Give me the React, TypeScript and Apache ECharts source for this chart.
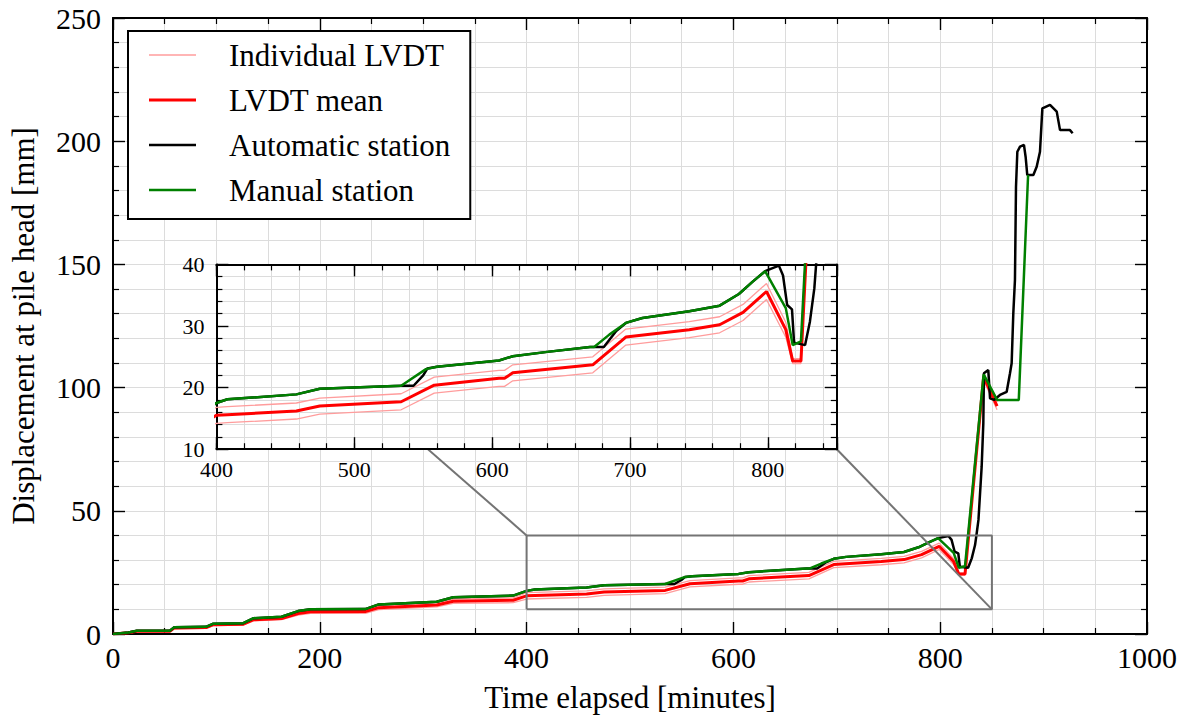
import React, { useEffect, useRef } from 'react';
import * as echarts from 'echarts';

// ---------- data (minutes, mm) ----------
const lvdtTime = [0, 15, 23, 55, 59, 90, 97, 126, 136, 163, 179, 191, 244, 257, 313, 329, 387, 400, 408, 458, 475, 534, 558, 605, 609, 615, 673, 697, 743, 765, 782, 799, 813, 818, 824, 842, 855];
const lvdtMean = [0, 0.5, 1.1, 1.1, 2.4, 2.6, 3.8, 4.0, 5.8, 6.3, 8.3, 9.0, 9.1, 10.7, 11.8, 13.3, 13.7, 15.5, 15.6, 16.2, 17.0, 17.7, 20.4, 21.5, 21.5, 22.4, 23.7, 28.2, 29.4, 30.2, 32.2, 35.6, 29.4, 24.3, 24.3, 104.4, 92.5];
const lvdtUpper = [0, 0.6, 1.3, 1.3, 2.7, 2.9, 4.2, 4.4, 6.3, 6.8, 8.9, 9.6, 9.8, 11.5, 12.6, 14.2, 14.7, 16.8, 16.9, 17.5, 18.3, 19.0, 21.7, 22.8, 22.8, 23.7, 25.0, 29.5, 30.7, 31.5, 33.5, 36.9, 30.6, 24.7, 24.7, 105.9, 94.0];
const lvdtLower = [0, 0.4, 0.9, 0.9, 2.1, 2.3, 3.4, 3.6, 5.3, 5.8, 7.7, 8.4, 8.4, 9.9, 11.0, 12.4, 12.7, 14.2, 14.3, 14.9, 15.7, 16.4, 19.1, 20.2, 20.2, 21.1, 22.4, 26.9, 28.1, 28.9, 30.9, 34.3, 28.2, 23.9, 23.9, 102.9, 91.0];

const autoTime = [0, 15, 23, 55, 59, 90, 97, 126, 136, 163, 179, 191, 244, 257, 313, 329, 387, 400, 408, 458, 475, 534, 543, 550, 553, 560, 605, 615, 640, 671, 681, 690, 697, 709, 743, 765, 779, 789, 798, 808, 811, 814, 817.5, 819, 827, 830.5, 833.7, 835.3, 837, 840.1, 841.7, 842.3, 846.5, 848.2, 852, 857.8, 864.3, 867.5, 869.1, 870.7, 872.3, 873.3, 874.6, 877.2, 881, 882.6, 884.2, 890.1, 893.3, 896.5, 898.8, 906.2, 912.7, 915.9, 925.5, 928.1];
const autoDisp = [0, 0.6, 1.3, 1.3, 2.7, 2.9, 4.2, 4.4, 6.4, 7.0, 9.3, 10.0, 10.1, 12.0, 13.1, 14.9, 15.6, 17.5, 18.1, 18.9, 19.8, 20.3, 20.3, 22.0, 23.1, 23.4, 24.4, 25.1, 25.8, 26.6, 26.6, 29.2, 30.5, 31.3, 32.4, 33.3, 35.2, 37.2, 38.9, 39.8, 38.2, 33.4, 32.7, 27.3, 26.9, 30.7, 36.1, 40.9, 46.3, 67.9, 85.5, 105.8, 107.1, 95.6, 95.0, 97.0, 98.3, 105.8, 109.9, 130.1, 143.7, 181.5, 195.7, 197.8, 198.5, 193.7, 186.3, 186.3, 189.6, 195.7, 213.3, 214.7, 212.0, 204.5, 204.5, 203.2];

const manualTime = [0, 15, 23, 55, 59, 90, 97, 126, 136, 163, 179, 191, 244, 257, 313, 329, 387, 400, 408, 458, 475, 534, 552, 560, 605, 615, 640, 671, 674, 685, 697, 709, 743, 765, 779, 789, 798, 813, 818, 824, 842, 855, 876, 885];
const manualDisp = [0, 0.6, 1.3, 1.3, 2.7, 2.9, 4.2, 4.4, 6.4, 7.0, 9.3, 10.0, 10.1, 12.0, 13.1, 14.9, 15.6, 17.5, 18.1, 18.9, 19.8, 20.3, 23.0, 23.4, 24.4, 25.1, 25.8, 26.6, 26.6, 28.6, 30.5, 31.3, 32.4, 33.3, 35.2, 37.2, 38.9, 32.9, 26.9, 27.5, 105.4, 95.0, 95.0, 186.3];

const legendNames = ['Individual LVDT', 'LVDT mean', 'Automatic station', 'Manual station'];

// axis ranges
const mainX = [0, 1000];
const mainY = [0, 250];
const zoomX = [400, 850];
const zoomY = [10, 40];
// inset placement, in main-axis data units
const insetX = [100, 700];
const insetY = [75, 150];

// ---------- layout ----------
const W = 1189;
const H = 722;
const MAIN = { left: 113, top: 18, width: 1034, height: 616 };
const FONT = '"Liberation Serif", "Times New Roman", "DejaVu Serif", serif';
const GRID_C = '#dcdcdc';

const PINK = '#ff9c9c';
const RED = '#ff0000';
const BLACK = '#000000';
const GREEN = '#008000';
const GRAY = '#747474';

const toPx = (x: number) => MAIN.left + ((x - mainX[0]) / (mainX[1] - mainX[0])) * MAIN.width;
const toPy = (y: number) => MAIN.top + (1 - (y - mainY[0]) / (mainY[1] - mainY[0])) * MAIN.height;

const zip = (t: number[], v: number[]) => t.map((x, i) => [x, v[i]]);

function lineSeries(name: string | undefined, data: number[][], color: string, width: number, xi: number, yi: number, z: number) {
  return {
    type: 'line',
    name,
    data,
    xAxisIndex: xi,
    yAxisIndex: yi,
    symbol: 'none',
    showSymbol: false,
    smooth: false,
    clip: true,
    silent: true,
    z,
    lineStyle: { color, width },
    itemStyle: { color, borderWidth: 0 },
  };
}

function frameAxis(extra: any) {
  return {
    type: 'value',
    axisLine: { show: true, onZero: false, lineStyle: { color: '#000', width: 2 } },
    axisTick: { show: true, inside: true, length: 12, lineStyle: { color: '#000', width: 1.4 } },
    axisLabel: { show: false },
    splitLine: { show: false },
    nameMoveOverlap: false,
    ...extra,
  };
}

const barIcon = (h: number) => `path://M0,0H47V${h}H0Z`;

export default function App() {
  const ref = useRef<HTMLDivElement>(null);

  useEffect(() => {
    if (!ref.current) return;
    const chart = echarts.init(ref.current, undefined, { renderer: 'svg', width: W, height: H });

    const insetRect = {
      left: toPx(insetX[0]),
      top: toPy(insetY[1]),
      width: toPx(insetX[1]) - toPx(insetX[0]),
      height: toPy(insetY[0]) - toPy(insetY[1]),
    };

    const mainTick = { lineStyle: { color: '#000', width: 1.2 } };
    const plainNum = (v: number) => String(v);

    const xAxis: any[] = [
      // 0 main bottom
      frameAxis({
        gridIndex: 0, position: 'bottom', min: mainX[0], max: mainX[1], interval: 200,
        minorTick: { show: true, splitNumber: 4, length: 6, ...mainTick },
        splitLine: { show: true, lineStyle: { color: GRID_C, width: 1 } },
        minorSplitLine: { show: true, lineStyle: { color: GRID_C, width: 1 } },
        axisLabel: { show: true, fontFamily: FONT, fontSize: 30, color: '#000', margin: 8, formatter: plainNum },
        name: 'Time elapsed [minutes]', nameLocation: 'middle', nameGap: 48,
        nameTextStyle: { fontFamily: FONT, fontSize: 31, color: '#000' },
      }),
      // 1 main top
      frameAxis({
        gridIndex: 0, position: 'top', min: mainX[0], max: mainX[1], interval: 200,
        minorTick: { show: true, splitNumber: 4, length: 6, ...mainTick },
      }),
      // 2 inset bottom (minor ticks, labels, grid)
      frameAxis({
        gridIndex: 1, position: 'bottom', min: zoomX[0], max: zoomX[1], interval: 20, z: 11,
        axisTick: { show: true, inside: true, length: 6, lineStyle: { color: '#000', width: 1.2 } },
        splitLine: { show: true, lineStyle: { color: GRID_C, width: 1 } },
        axisLabel: {
          show: true, fontFamily: FONT, fontSize: 22, color: '#000', margin: 9,
          formatter: (v: number) => (v % 100 === 0 && v < zoomX[1] ? String(v) : ''),
        },
      }),
      // 3 inset bottom (major ticks)
      frameAxis({
        gridIndex: 1, position: 'bottom', min: zoomX[0], max: zoomX[1], interval: 100, z: 11,
        axisLine: { show: false },
      }),
      // 4 inset top minor
      frameAxis({
        gridIndex: 1, position: 'top', min: zoomX[0], max: zoomX[1], interval: 20, z: 11,
        axisTick: { show: true, inside: true, length: 6, lineStyle: { color: '#000', width: 1.2 } },
      }),
      // 5 inset top major
      frameAxis({
        gridIndex: 1, position: 'top', min: zoomX[0], max: zoomX[1], interval: 100, z: 11,
        axisLine: { show: false },
      }),
    ];

    const yAxis: any[] = [
      // 0 main left
      frameAxis({
        gridIndex: 0, position: 'left', min: mainY[0], max: mainY[1], interval: 50,
        minorTick: { show: true, splitNumber: 5, length: 6, ...mainTick },
        splitLine: { show: true, lineStyle: { color: GRID_C, width: 1 } },
        minorSplitLine: { show: true, lineStyle: { color: GRID_C, width: 1 } },
        axisLabel: { show: true, fontFamily: FONT, fontSize: 30, color: '#000', margin: 12, formatter: plainNum },
        name: 'Displacement at pile head [mm]', nameLocation: 'middle', nameGap: 74, nameRotate: 90,
        nameTextStyle: { fontFamily: FONT, fontSize: 31, color: '#000' },
      }),
      // 1 main right
      frameAxis({
        gridIndex: 0, position: 'right', min: mainY[0], max: mainY[1], interval: 50,
        minorTick: { show: true, splitNumber: 5, length: 6, ...mainTick },
      }),
      // 2 inset left
      frameAxis({
        gridIndex: 1, position: 'left', min: zoomY[0], max: zoomY[1], interval: 10, z: 11,
        minorTick: { show: true, splitNumber: 5, length: 6, lineStyle: { color: '#000', width: 1.2 } },
        splitLine: { show: true, lineStyle: { color: GRID_C, width: 1 } },
        minorSplitLine: { show: true, lineStyle: { color: GRID_C, width: 1 } },
        axisLabel: { show: true, fontFamily: FONT, fontSize: 22, color: '#000', margin: 12, formatter: plainNum },
      }),
      // 3 inset right
      frameAxis({
        gridIndex: 1, position: 'right', min: zoomY[0], max: zoomY[1], interval: 10, z: 11,
        minorTick: { show: true, splitNumber: 5, length: 6, lineStyle: { color: '#000', width: 1.2 } },
      }),
    ];

    const upper = zip(lvdtTime, lvdtUpper);
    const lower = zip(lvdtTime, lvdtLower);
    const mean = zip(lvdtTime, lvdtMean);
    const auto = zip(autoTime, autoDisp);
    const manual = zip(manualTime, manualDisp);

    const zoomBox = [
      [zoomX[0], zoomY[0]], [zoomX[1], zoomY[0]], [zoomX[1], zoomY[1]], [zoomX[0], zoomY[1]], [zoomX[0], zoomY[0]],
    ];
    const connA = [[zoomX[0], zoomY[1]], [insetX[0], insetY[1]]];
    const connB = [[zoomX[1], zoomY[0]], [insetX[1], insetY[0]]];

    const series: any[] = [
      // main
      lineSeries(legendNames[0], upper, PINK, 1.3, 0, 0, 2),
      lineSeries(legendNames[0], lower, PINK, 1.3, 0, 0, 2),
      lineSeries(legendNames[1], mean, RED, 3, 0, 0, 3),
      lineSeries(legendNames[2], auto, BLACK, 2.5, 0, 0, 4),
      lineSeries(legendNames[3], manual, GREEN, 2.5, 0, 0, 5),
      // zoom indicator
      lineSeries(undefined, zoomBox, GRAY, 2, 0, 0, 6),
      lineSeries(undefined, connA, GRAY, 2, 0, 0, 6),
      lineSeries(undefined, connB, GRAY, 2, 0, 0, 6),
      // inset
      lineSeries(legendNames[0], upper, PINK, 1.3, 2, 2, 12),
      lineSeries(legendNames[0], lower, PINK, 1.3, 2, 2, 12),
      lineSeries(legendNames[1], mean, RED, 3, 2, 2, 13),
      lineSeries(legendNames[2], auto, BLACK, 2.5, 2, 2, 14),
      lineSeries(legendNames[3], manual, GREEN, 2.5, 2, 2, 15),
    ];

    chart.setOption({
      animation: false,
      backgroundColor: '#ffffff',
      textStyle: { fontFamily: FONT },
      grid: [
        { ...MAIN, containLabel: false, outerBoundsMode: 'none', show: false },
        {
          ...insetRect, containLabel: false, outerBoundsMode: 'none',
          show: true, backgroundColor: '#ffffff', borderWidth: 0, z: 10,
        },
      ],
      xAxis,
      yAxis,
      legend: {
        data: [
          { name: legendNames[0], icon: barIcon(1.4), itemStyle: { color: PINK, borderWidth: 0 } },
          { name: legendNames[1], icon: barIcon(3), itemStyle: { color: RED, borderWidth: 0 } },
          { name: legendNames[2], icon: barIcon(2.5), itemStyle: { color: BLACK, borderWidth: 0 } },
          { name: legendNames[3], icon: barIcon(2.5), itemStyle: { color: GREEN, borderWidth: 0 } },
        ],
        orient: 'vertical',
        left: 128,
        top: 31,
        padding: [7, 20, 12, 21],
        itemWidth: 47,
        itemHeight: 14,
        itemGap: 11,
        symbolKeepAspect: true,
        itemStyle: { borderWidth: 0 },
        lineStyle: { width: 0, opacity: 0 },
        borderColor: '#000',
        borderWidth: 2,
        borderRadius: 0,
        backgroundColor: '#ffffff',
        selectedMode: false,
        z: 20,
        textStyle: { fontFamily: FONT, fontSize: 31, color: '#000', lineHeight: 34, padding: [0, 0, 0, 28] },
      },
      series,
    });

    return () => chart.dispose();
  }, []);

  return (
    <div
      ref={ref}
      style={{ position: 'fixed', left: 0, top: 0, width: W, height: H, background: '#fff' }}
    />
  );
}
